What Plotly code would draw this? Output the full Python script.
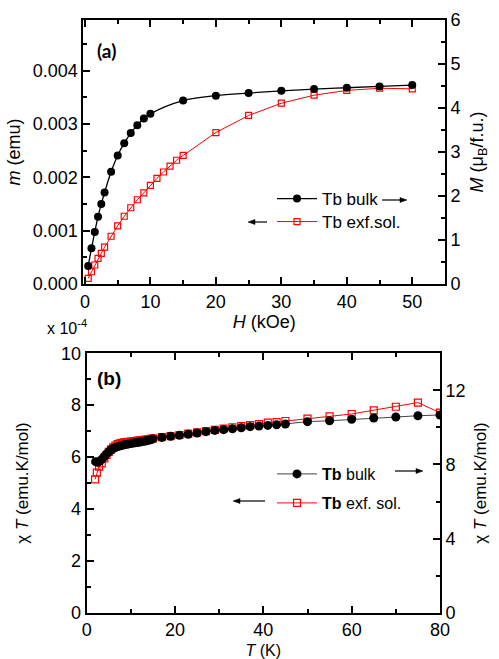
import plotly.graph_objects as go

# ---------- Panel (a): magnetization vs field ----------
H_bulk = [0.5, 1, 1.5, 2, 2.5, 3, 4, 5, 6, 7, 8, 9, 10, 15, 20, 25, 30, 35, 40, 45, 50]
M_bulk = [0.41, 0.81, 1.18, 1.53, 1.82, 2.08, 2.55, 2.92, 3.20, 3.43, 3.61, 3.76, 3.87,
          4.17, 4.28, 4.34, 4.39, 4.43, 4.46, 4.49, 4.52]

H_exf = [0.5, 1, 1.5, 2, 2.5, 3, 4, 5, 6, 7, 8, 9, 10, 11, 12, 13, 14, 15, 20, 25, 30, 35, 40, 45, 50]
m_exf = [0.000107, 0.00023, 0.000356, 0.00048, 0.000576, 0.00069, 0.000895, 0.00109, 0.00127,
         0.00143, 0.00158, 0.00171, 0.00185, 0.00198, 0.00210, 0.00221, 0.00232, 0.00241,
         0.00284, 0.00316, 0.00339, 0.00354, 0.00363, 0.00367, 0.00366]

# ---------- Panel (b): chi*T vs temperature ----------
T_bulk = [2.0, 2.5, 3.0, 3.5, 4.0, 4.5, 5.0, 5.5, 6.0, 6.5, 7.0, 7.5, 8.0, 8.5, 9.0, 9.5,
          10.0, 10.5, 11.0, 11.5, 12.0, 12.5, 13.0, 13.5, 14.0, 14.5, 15.0,
          17, 19, 21, 23, 25, 27, 29, 31, 33, 35, 37, 39, 41, 43, 45,
          50, 55, 60, 65, 70, 75, 80]
chiT_bulk = [8.15, 8.12, 8.19, 8.30, 8.43, 8.57, 8.68, 8.78, 8.86, 8.92, 8.96, 9.00, 9.03, 9.06,
             9.09, 9.11, 9.13, 9.16, 9.17, 9.18, 9.21, 9.23, 9.25, 9.28, 9.31, 9.34, 9.38,
             9.46, 9.52, 9.58, 9.63, 9.70, 9.77, 9.84, 9.88, 9.93, 9.98, 10.04, 10.07, 10.11,
             10.14, 10.18, 10.31, 10.36, 10.44, 10.51, 10.56, 10.63, 10.67]

T_exf = [1.9, 2.3, 2.8, 3.4, 4.0, 4.5, 5.0, 5.5, 6.0, 6.5, 7.0, 7.5, 8.0, 8.5, 9.0, 9.5,
         10.0, 10.5, 11.0, 11.5, 12.0, 12.5, 13.0, 13.5, 14.0, 14.5, 15.0,
         17, 19, 21, 23, 25, 27, 29, 31, 33, 35, 37, 39, 41, 43, 45,
         50, 55, 60, 65, 70, 75, 80]
chiT_exf = [5.14, 5.40, 5.63, 5.76, 5.95, 6.08, 6.20, 6.30, 6.37, 6.44, 6.50, 6.53, 6.55, 6.57,
            6.58, 6.59, 6.60, 6.61, 6.62, 6.63, 6.64, 6.65, 6.66, 6.67, 6.68, 6.70, 6.72,
            6.77, 6.81, 6.85, 6.90, 6.95, 7.00, 7.05, 7.10, 7.15, 7.19, 7.23, 7.27, 7.33,
            7.35, 7.39, 7.48, 7.57, 7.66, 7.80, 7.94, 8.10, 7.71]

FONT = "Liberation Sans"
W, Hpx = 499, 659

fig = go.Figure()

# top panel traces
fig.add_trace(go.Scatter(x=H_bulk, y=M_bulk, xaxis="x", yaxis="y2", mode="lines+markers",
                         name="Tb bulk", legend="legend",
                         line=dict(color="black", width=1.3, shape="spline"),
                         marker=dict(symbol="circle", size=8, color="black")))
fig.add_trace(go.Scatter(x=H_exf, y=m_exf, xaxis="x", yaxis="y", mode="lines+markers",
                         name="Tb exf.sol.", legend="legend3",
                         line=dict(color="#ff0000", width=1),
                         marker=dict(symbol="square-open", size=6, color="#ff0000",
                                     line=dict(width=1.2, color="#ff0000"))))

# bottom panel traces
fig.add_trace(go.Scatter(x=T_exf, y=chiT_exf, xaxis="x2", yaxis="y3", mode="lines+markers",
                         name="<b>Tb</b> exf. sol.", legend="legend4",
                         line=dict(color="#ff0000", width=1),
                         marker=dict(symbol="square-open", size=7, color="#ff0000",
                                     line=dict(width=1.2, color="#ff0000"))))
fig.add_trace(go.Scatter(x=T_bulk, y=chiT_bulk, xaxis="x2", yaxis="y4", mode="lines+markers",
                         name="<b>Tb</b> bulk", legend="legend2",
                         line=dict(color="#444444", width=1),
                         marker=dict(symbol="circle", size=9, color="black")))

tickfont = dict(family=FONT, size=18, color="black")
titlefont_top = dict(family=FONT, size=18, color="black")
titlefont_bot = dict(family=FONT, size=17, color="black")

def axis_common():
    return dict(showline=True, linecolor="black", linewidth=2, ticks="inside",
                ticklen=7, tickwidth=1.5, tickcolor="black", showgrid=False,
                zeroline=False, tickfont=tickfont, automargin=False)

def minor(d):
    return dict(dtick=d, tick0=0, ticks="inside", ticklen=4, tickwidth=1.5, tickcolor="black")

def leg(px, py, size):
    return dict(x=px / W, y=1 - py / Hpx, xanchor="left", yanchor="middle",
                bgcolor="rgba(0,0,0,0)", font=dict(family=FONT, size=size, color="black"),
                itemwidth=40, borderwidth=0)

top_dom = [1 - 284 / Hpx, 1 - 20 / Hpx]
bot_dom = [1 - 612.7 / Hpx, 1 - 353.3 / Hpx]

fig.update_layout(
    width=W, height=Hpx,
    margin=dict(l=0, r=0, t=0, b=0, autoexpand=False),
    paper_bgcolor="white", plot_bgcolor="white",
    font=dict(family=FONT, color="black"),
    xaxis=dict(**axis_common(), domain=[83.3 / W, 445 / W], anchor="y",
               range=[-0.25, 55], dtick=10, tick0=0, mirror="ticks", minor=minor(5),
               title=dict(text="<i>H</i> (kOe)", font=titlefont_top, standoff=4)),
    yaxis=dict(**axis_common(), domain=top_dom, anchor="x",
               range=[0, 0.00495], dtick=0.001, tick0=0, tickformat=".3f", minor=minor(0.0005),
               title=dict(text="<i>m</i> (emu)", font=titlefont_top, standoff=7)),
    yaxis2=dict(**axis_common(), overlaying="y", side="right", anchor="x",
                range=[0, 6], dtick=1, tick0=0, minor=minor(0.5),
                title=dict(text="<i>M</i> (μ<sub>B</sub>/f.u.)", font=titlefont_top, standoff=11)),
    xaxis2=dict(**axis_common(), domain=[86.7 / W, 440 / W], anchor="y3",
                range=[0, 80], dtick=20, tick0=0, mirror="ticks", minor=minor(10),
                title=dict(text="<i>T</i> (K)", font=dict(family=FONT, size=16, color="black"), standoff=6)),
    yaxis3=dict(**axis_common(), domain=bot_dom, anchor="x2",
                range=[0, 10], dtick=2, tick0=0, minor=minor(1),
                title=dict(text="χ <i>T</i> (emu.K/mol)", font=titlefont_bot, standoff=28)),
    yaxis4=dict(**axis_common(), overlaying="y3", side="right", anchor="x2",
                range=[0, 14], dtick=4, tick0=0, minor=minor(2),
                title=dict(text="χ <i>T</i> (emu.K/mol)", font=titlefont_bot, standoff=9)),
    legend=leg(272, 199, 17),
    legend3=leg(272, 222, 17),
    legend2=leg(272, 474, 16),
    legend4=leg(272, 503, 16),
    showlegend=True,
)

annotations = [
    dict(text="<b>(a)</b>", x=95 / W, y=1 - 50 / Hpx, xref="paper", yref="paper",
         xanchor="left", yanchor="middle", showarrow=False,
         font=dict(family="Lato, Open Sans, sans-serif", size=19, color="black")),
    dict(text="<b>(b)</b>", x=95 / W, y=1 - 378 / Hpx, xref="paper", yref="paper",
         xanchor="left", yanchor="middle", showarrow=False,
         font=dict(family=FONT, size=19, color="black")),
    dict(text="x 10<sup>-4</sup>", x=45 / W, y=1 - 327 / Hpx, xref="paper", yref="paper",
         xanchor="left", yanchor="middle", showarrow=False,
         font=dict(family=FONT, size=16, color="black")),
]
fig.update_layout(annotations=annotations)

# direction arrows next to the legends (tail_x, head_x, y) in pixels
arrows = [
    (382, 407, 200),   # top: bulk -> right axis
    (267, 248, 222),   # top: exf -> left axis
    (395, 423, 471),   # bottom: bulk -> right axis
    (265, 233, 501),   # bottom: exf -> left axis
]
shapes = []
for (tx, hx, py) in arrows:
    d = 1 if hx > tx else -1
    base = hx - d * 7
    shapes.append(dict(type="line", xref="paper", yref="paper",
                       x0=tx / W, x1=base / W, y0=1 - py / Hpx, y1=1 - py / Hpx,
                       line=dict(color="black", width=1.2)))
    path = "M {:.5f} {:.5f} L {:.5f} {:.5f} L {:.5f} {:.5f} Z".format(
        hx / W, 1 - py / Hpx, base / W, 1 - (py - 2.5) / Hpx, base / W, 1 - (py + 2.5) / Hpx)
    shapes.append(dict(type="path", xref="paper", yref="paper", path=path,
                       fillcolor="black", line=dict(color="black", width=0.5)))
fig.update_layout(shapes=shapes)

fig.write_html("out.html")
